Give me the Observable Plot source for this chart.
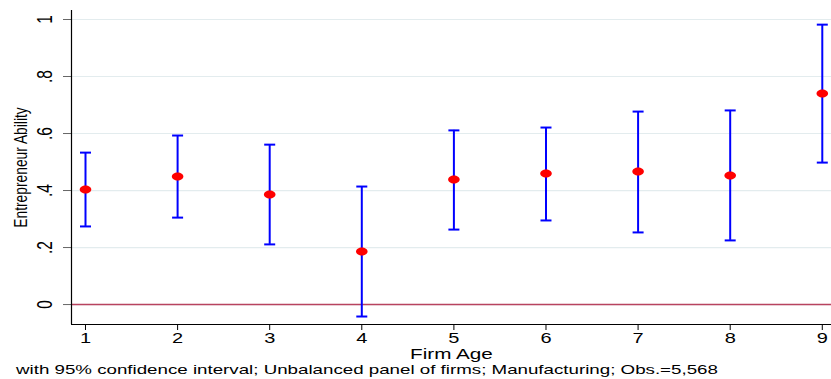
<!DOCTYPE html>
<html>
<head>
<meta charset="utf-8">
<script src="https://cdn.jsdelivr.net/npm/d3@7"></script>
<script src="https://cdn.jsdelivr.net/npm/@observablehq/plot@0.6"></script>
<style>
  html, body { margin: 0; padding: 0; background: #fff; }
  #wrap { position: relative; width: 831px; height: 379px; font-family: "Liberation Sans", Arial, sans-serif; overflow: hidden; }
  #caption { position: absolute; left: 16px; top: 362px; font-size: 13px; line-height: 16px; color: #000; white-space: nowrap; transform: scaleX(1.44); transform-origin: 0 0; }
</style>
</head>
<body>
<div id="wrap"><div id="chart"></div><div id="caption"></div></div>
<script>
// Data
const firmAge  = [1, 2, 3, 4, 5, 6, 7, 8, 9];
const estimate = [0.404, 0.449, 0.386, 0.186, 0.439, 0.460, 0.467, 0.453, 0.740];
const upperCI  = [0.533, 0.593, 0.561, 0.414, 0.611, 0.621, 0.677, 0.681, 0.982];
const lowerCI  = [0.274, 0.305, 0.211, -0.042, 0.263, 0.295, 0.253, 0.225, 0.498];
const yTicks = [0, 0.2, 0.4, 0.6, 0.8, 1];
const yTickLabels = ["0", ".2", ".4", ".6", ".8", "1"];
const xTicks = [1, 2, 3, 4, 5, 6, 7, 8, 9];
const xTickLabels = ["1", "2", "3", "4", "5", "6", "7", "8", "9"];
const yTitle = "Entrepreneur Ability";
const xTitle = "Firm Age";
const captionText = "with 95% confidence interval; Unbalanced panel of firms; Manufacturing; Obs.=5,568";
const xDomain = [0.848, 9.1];
const yDomain = [-0.07, 1.0316];

const data = firmAge.map((x, i) => ({x, est: estimate[i], hi: upperCI[i], lo: lowerCI[i]}));

const capSymbol = { draw(ctx) { ctx.moveTo(-5.5, 0); ctx.lineTo(5.5, 0); } };
const ellipseSymbol = { draw(ctx) {
  const rx = 5.8, ry = 4, k = 0.5523;
  ctx.moveTo(rx, 0);
  ctx.bezierCurveTo(rx, k * ry, k * rx, ry, 0, ry);
  ctx.bezierCurveTo(-k * rx, ry, -rx, k * ry, -rx, 0);
  ctx.bezierCurveTo(-rx, -k * ry, -k * rx, -ry, 0, -ry);
  ctx.bezierCurveTo(k * rx, -ry, rx, -k * ry, rx, 0);
  ctx.closePath();
} };

const chart = Plot.plot({
  width: 831,
  height: 362,
  marginLeft: 71,
  marginRight: 0,
  marginTop: 10,
  marginBottom: 38,
  style: { fontFamily: "Liberation Sans, Arial, sans-serif", background: "#fff", overflow: "visible" },
  x: { domain: xDomain },
  y: { domain: yDomain },
  marks: [
    Plot.gridY(yTicks, { stroke: "#e3ecee", strokeOpacity: 1, strokeWidth: 1.2 }),
    Plot.ruleY([0], { stroke: "#b8435f", strokeWidth: 1.5 }),
    Plot.axisY({ ticks: yTicks, tickSize: 8, tickFormat: () => "", stroke: "#666", label: null }),
    Plot.text(yTicks, { y: d => d, text: (d, i) => yTickLabels[i], frameAnchor: "left", textAnchor: "middle", lineAnchor: "middle", dx: -26.5, rotate: -90, fontSize: 15.5, fill: "#000" }),
    Plot.axisX({ ticks: xTicks, tickSize: 6, tickFormat: () => "", label: null, stroke: "#000" }),
    Plot.text(xTicks, { x: d => d, text: (d, i) => xTickLabels[i], frameAnchor: "bottom", textAnchor: "middle", lineAnchor: "middle", dy: 14.3, fontSize: 14.5, fill: "#000" }),
    Plot.ruleX([xDomain[0]], { stroke: "#000", strokeWidth: 1.2 }),
    Plot.ruleY([yDomain[0]], { stroke: "#000", strokeWidth: 1.2 }),
    Plot.ruleX(data, { x: "x", y1: "lo", y2: "hi", stroke: "#0000ff", strokeWidth: 2 }),
    Plot.dot(data, { x: "x", y: "hi", symbol: capSymbol, stroke: "#0000ff", strokeWidth: 2, fill: "none" }),
    Plot.dot(data, { x: "x", y: "lo", symbol: capSymbol, stroke: "#0000ff", strokeWidth: 2, fill: "none" }),
    Plot.dot(data, { x: "x", y: "est", symbol: ellipseSymbol, fill: "#ff0000", stroke: "none" }),
    Plot.text([yTitle], { frameAnchor: "left", textAnchor: "middle", lineAnchor: "middle", dx: -51, rotate: -90, fontSize: 13.8, fill: "#000", text: d => d }),
    Plot.text([xTitle], { frameAnchor: "bottom", textAnchor: "middle", lineAnchor: "middle", dy: 29.5, fontSize: 15, fill: "#000", text: d => d })
  ]
});
document.getElementById("chart").appendChild(chart);
document.getElementById("caption").textContent = captionText;

// The reference image is horizontally stretched: widen the texts the same way
const SX = 1.38;
const rotTexts = new Set([...yTickLabels, yTitle]);
const flatTexts = new Set([...xTickLabels, xTitle]);
d3.select(chart).selectAll("text").each(function () {
  const s = this.textContent;
  const t = this.getAttribute("transform") || "";
  const rotated = t.includes("rotate");
  if (rotated && rotTexts.has(s)) {
    const b = this.getBBox();
    const cy = b.y + b.height / 2;
    this.setAttribute("transform", `${t} translate(0,${cy}) scale(1,${SX}) translate(0,${-cy})`);
  } else if (!rotated && flatTexts.has(s)) {
    const b = this.getBBox();
    const cx = b.x + b.width / 2;
    this.setAttribute("transform", `${t} translate(${cx},0) scale(${SX},1) translate(${-cx},0)`);
  }
});
</script>
</body>
</html>
